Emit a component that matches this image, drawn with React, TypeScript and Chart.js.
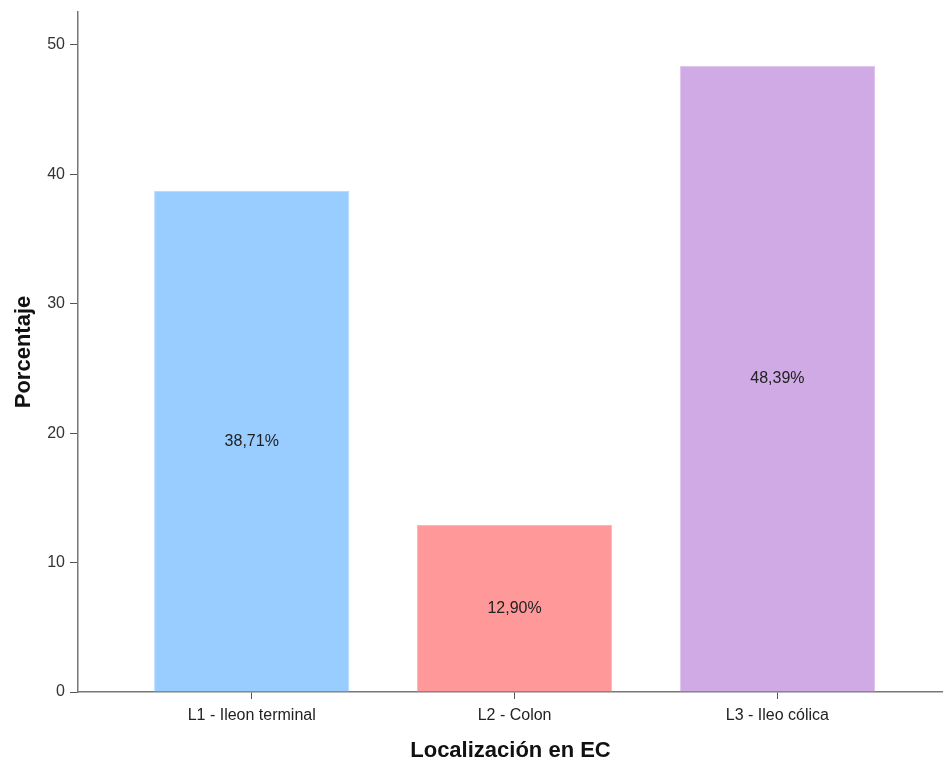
import React, { useEffect, useRef } from "react";
import { Chart, registerables } from "chart.js";

Chart.register(...registerables);

const categories = ["L1 - Ileon terminal", "L2 - Colon", "L3 - Ileo cólica"];
const percentages = [38.71, 12.9, 48.39];
const valueLabels = ["38,71%", "12,90%", "48,39%"];
const barColors = ["#99CCFF", "#FF9999", "#D0AAE4"];
const barEdgeColors = ["#B8DBFF", "#FFB5B5", "#DEC2EC"];
const yTicks = [0, 10, 20, 30, 40, 50];

const FONT = "'Liberation Sans', Arial, sans-serif";

const centerLabels = {
  id: "centerLabels",
  afterDatasetsDraw(chart: any) {
    const ctx = chart.ctx;
    const meta = chart.getDatasetMeta(0);
    ctx.save();
    ctx.font = `16px ${FONT}`;
    ctx.fillStyle = "#222222";
    ctx.textAlign = "center";
    ctx.textBaseline = "middle";
    meta.data.forEach((bar: any, i: number) => {
      const y = (bar.y + bar.base) / 2;
      ctx.fillText(valueLabels[i], bar.x, y);
    });
    ctx.restore();
  },
};

export default function App() {
  const ref = useRef<HTMLCanvasElement | null>(null);
  useEffect(() => {
    document.body.style.margin = "0";
    const canvas = ref.current;
    if (!canvas) return;
    const chart = new Chart(canvas, {
      type: "bar",
      data: {
        datasets: [
          {
            data: percentages.map((v, i) => ({ x: i, y: v })),
            backgroundColor: barColors,
            borderColor: barEdgeColors,
            borderWidth: 1,
            barPercentage: 0.743,
            categoryPercentage: 1,
          },
        ],
      },
      options: {
        responsive: false,
        animation: false,
        maintainAspectRatio: false,
        layout: { autoPadding: false, padding: { top: 12, right: 0, left: 0, bottom: 0 } },
        plugins: {
          legend: { display: false },
          tooltip: { enabled: false },
        },
        scales: {
          x: {
            type: "linear",
            offset: false,
            min: -0.661,
            max: 2.63,
            afterBuildTicks(scale: any) {
              scale.ticks = categories.map((_, i) => ({ value: i }));
            },
            afterFit(scale: any) {
              scale.height = 72;
              scale.paddingLeft = 0;
              scale.paddingRight = 0;
            },
            ticks: {
              autoSkip: false,
              maxRotation: 0,
              padding: 7,
              color: "#222222",
              font: { family: FONT, size: 16 },
              callback: (v: any) => categories[v] ?? "",
            },
            grid: {
              display: true,
              offset: false,
              drawOnChartArea: false,
              drawTicks: true,
              tickLength: 7,
              color: "#555555",
            },
            border: { display: true, color: "#777777", width: 1.5 },
            title: {
              display: true,
              text: "Localización en EC",
              color: "#111111",
              font: { family: FONT, size: 22, weight: "bold" },
              padding: { top: 0, bottom: 0 },
            },
          },
          y: {
            min: 0,
            max: 52.55,
            afterBuildTicks(scale: any) {
              scale.ticks = yTicks.map((v) => ({ value: v }));
            },
            afterFit(scale: any) {
              scale.width = 78;
              scale.paddingTop = 0;
              scale.paddingBottom = 0;
            },
            ticks: {
              padding: 5,
              color: "#333333",
              font: { family: FONT, size: 16 },
            },
            grid: {
              display: true,
              drawOnChartArea: false,
              drawTicks: true,
              tickLength: 8,
              color: "#555555",
            },
            border: { display: true, color: "#777777", width: 1.5 },
            title: {
              display: true,
              text: "Porcentaje",
              color: "#111111",
              font: { family: FONT, size: 22, weight: "bold" },
              padding: { top: 11, bottom: 0 },
            },
          },
        },
      },
      plugins: [centerLabels],
    } as any);
    return () => chart.destroy();
  }, []);
  return (
    <div style={{ width: 943, height: 764, background: "#ffffff" }}>
      <canvas ref={ref} width={943} height={764} style={{ display: "block" }} />
    </div>
  );
}
